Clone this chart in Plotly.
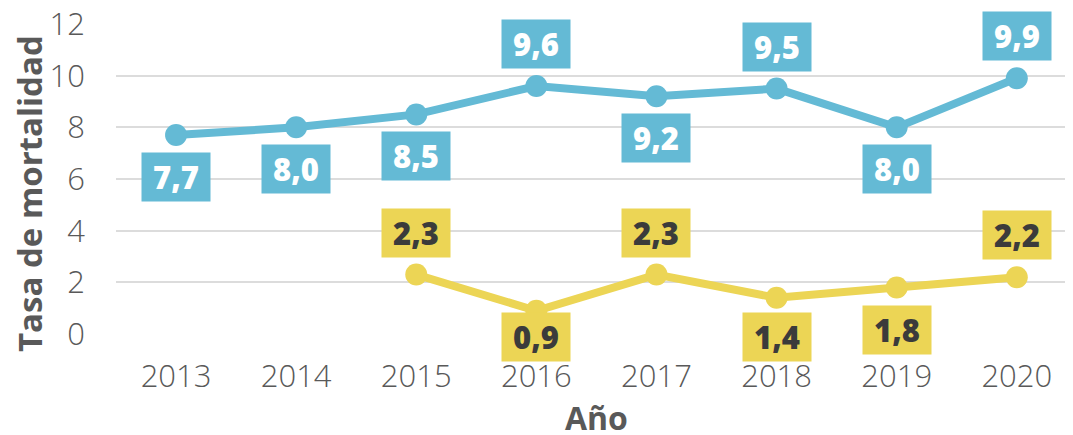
import plotly.graph_objects as go

years = ["2013", "2014", "2015", "2016", "2017", "2018", "2019", "2020"]
serie_azul = [7.7, 8.0, 8.5, 9.6, 9.2, 9.5, 8.0, 9.9]
serie_amarilla = [None, None, 2.3, 0.9, 2.3, 1.4, 1.8, 2.2]
y_ticks = [0, 2, 4, 6, 8, 10, 12]

pos_azul = ["below", "below", "below", "above", "below", "above", "below", "above"]
pos_amarilla = [None, None, "above", "below", "above", "below", "below", "above"]

AZUL = "#64BAD5"
AMARILLO = "#ECD555"
GRIS = "#595959"
FONT = "Open Sans"

# page offset (body margin) compensation
OFF = 8
W, H = 1073 - OFF, 435 - OFF
L, R, T, B = 116 - OFF, 0, 24 - OFF, 101
PLOT_H = H - T - B
Y_MAX = 12
PX_PER_UNIT = PLOT_H / Y_MAX
LABEL_GAP = 42            # px between marker centre and label centre
LABEL_FLOOR = 337 - OFF   # lowest label centre, in figure pixels

fig = go.Figure()
for vals, color in [(serie_azul, AZUL), (serie_amarilla, AMARILLO)]:
    fig.add_trace(go.Scatter(
        x=years, y=vals, mode="lines+markers",
        line=dict(color=color, width=8),
        marker=dict(color=color, size=22),
        hoverinfo="skip", showlegend=False, connectgaps=False,
    ))

def fmt(v):
    return f"{v:.1f}".replace(".", ",")

annotations = []
for vals, poss, bg, fc in [(serie_azul, pos_azul, AZUL, "white"),
                           (serie_amarilla, pos_amarilla, AMARILLO, "#3B3B3B")]:
    for i, (v, p) in enumerate(zip(vals, poss)):
        if v is None:
            continue
        if p == "above":
            shift = LABEL_GAP
        else:
            marker_px = H - B - v * PX_PER_UNIT
            shift = -min(LABEL_GAP, LABEL_FLOOR - marker_px)
        annotations.append(dict(
            x=i, y=v, xref="x", yref="y", yshift=shift,
            text="\u00a0" + fmt(v) + "\u00a0",
            showarrow=False, xanchor="center", yanchor="middle",
            bgcolor=bg, borderpad=3,
            font=dict(family=FONT, size=31, color=fc, weight=800),
        ))

def px(x, y):
    return (x - OFF - L) / (W - L - R), (H - B - (y - OFF)) / (H - T - B)

tx, ty = px(29, 194)
annotations.append(dict(
    x=tx, y=ty, xref="paper", yref="paper", text="Tasa de mortalidad",
    showarrow=False, textangle=-90, xanchor="center", yanchor="middle",
    font=dict(family=FONT, size=33, color=GRIS, weight=700),
))
ax, ay = px(596, 417)
annotations.append(dict(
    x=ax, y=ay, xref="paper", yref="paper", text="Año",
    showarrow=False, xanchor="center", yanchor="middle",
    font=dict(family=FONT, size=32, color=GRIS, weight=700),
))

fig.update_layout(
    width=W, height=H,
    margin=dict(l=L, r=R, t=T, b=B, autoexpand=False),
    paper_bgcolor="white", plot_bgcolor="white",
    annotations=annotations,
    xaxis=dict(
        type="category", range=[-0.5, 7.468], automargin=False,
        showgrid=False, zeroline=False, showline=False,
        tickfont=dict(family=FONT, size=31, color=GRIS, weight=300),
        ticklabelstandoff=21, ticklabeloverflow="allow",
    ),
    yaxis=dict(
        range=[0, Y_MAX], tickvals=y_ticks, automargin=False,
        showgrid=True, gridcolor="#DCDCDC", gridwidth=2,
        zeroline=False, showline=False,
        tickfont=dict(family=FONT, size=31, color=GRIS, weight=300),
        ticklabelstandoff=30, ticklabeloverflow="allow",
    ),
)

fig.write_html("out.html")
